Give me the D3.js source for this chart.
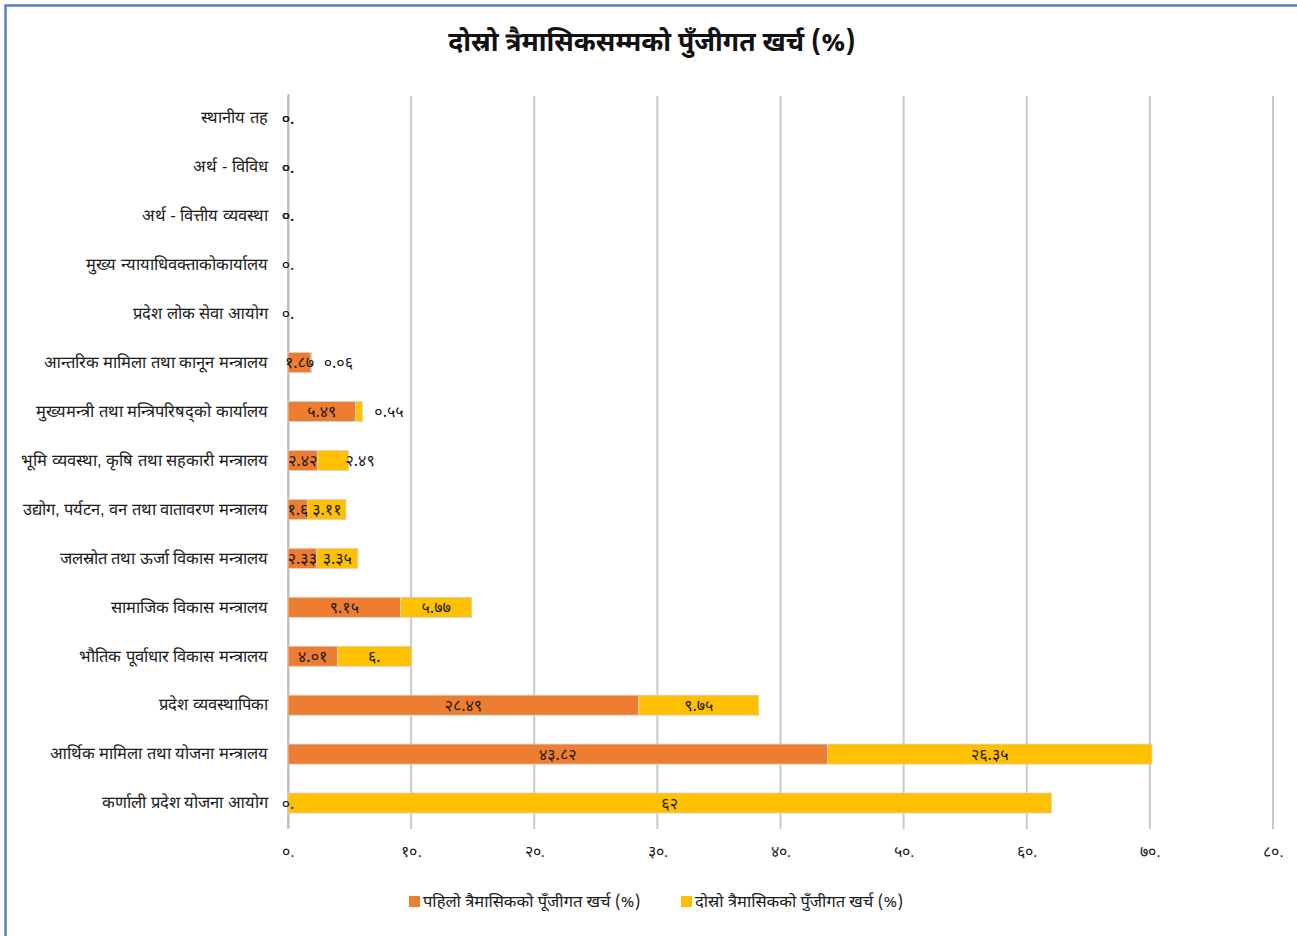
<!DOCTYPE html>
<html>
<head>
<meta charset="utf-8">
<script src="https://cdn.jsdelivr.net/npm/d3@7"></script>
<style>
  body { margin: 0; background: #fff; }
  svg { font-family: "Noto Sans Devanagari", "Lohit Devanagari", "Noto Sans", sans-serif; }
</style>
</head>
<body>
<div id="chart-area"></div>
<script>
/*
*    capital expenditure chart
*/

// Data
var categories = [
  "स्थानीय तह",
  "अर्थ - विविध",
  "अर्थ - वित्तीय व्यवस्था",
  "मुख्य न्यायाधिवक्ताकोकार्यालय",
  "प्रदेश लोक सेवा आयोग",
  "आन्तरिक मामिला तथा कानून मन्त्रालय",
  "मुख्यमन्त्री तथा मन्त्रिपरिषद्को कार्यालय",
  "भूमि व्यवस्था, कृषि तथा सहकारी मन्त्रालय",
  "उद्योग, पर्यटन, वन तथा वातावरण मन्त्रालय",
  "जलस्रोत तथा ऊर्जा विकास मन्त्रालय",
  "सामाजिक विकास मन्त्रालय",
  "भौतिक पूर्वाधार विकास मन्त्रालय",
  "प्रदेश व्यवस्थापिका",
  "आर्थिक मामिला तथा योजना मन्त्रालय",
  "कर्णाली प्रदेश योजना आयोग"
];
var firstQuarter  = [0, 0, 0, 0, 0, 1.87, 5.49, 2.42, 1.6, 2.33, 9.15, 4.01, 28.49, 43.82, 0];
var secondQuarter = [0, 0, 0, null, null, 0.06, 0.55, 2.49, 3.11, 3.35, 5.77, 6, 9.75, 26.35, 62];
var seriesNames = ["पहिलो त्रैमासिकको पूँजीगत खर्च (%)", "दोस्रो त्रैमासिकको पुँजीगत खर्च (%)"];
var xTicks = [0, 10, 20, 30, 40, 50, 60, 70, 80];
var title = "दोस्रो त्रैमासिकसम्मको पुँजीगत खर्च (%)";

var colors = ["#ED7D31", "#FFC000"];
var width = 1297;
var height = 936;

var devDigits = "०१२३४५६७८९";
var toDev = (s) => { return String(s).replace(/[0-9]/g, (c) => devDigits[+c]); };
var fmtLabel = (v) => {
  var s = String(v);
  if (Number.isInteger(v) && v < 10) s += ".";
  return toDev(s);
};

var svg = d3.select("#chart-area").append("svg").attr("width", width).attr("height", height);

// Outer border
svg.append("rect").attr("x", 5.5).attr("y", 5.5).attr("width", width + 50).attr("height", height + 50)
  .attr("fill", "white").attr("stroke", "#5b7fc0").attr("stroke-width", 2.5);

// Scales
var x = d3.scaleLinear().domain([0, 80]).range([288, 1273]);
var y = d3.scaleBand().domain(categories).range([93.5, 827.5]).paddingInner(0.59).paddingOuter(0.295);

// Title
svg.append("text").attr("x", 652).attr("y", 51).attr("text-anchor", "middle")
  .attr("font-size", "26.5px").attr("font-weight", "bold").attr("fill", "#111").text(title);

// Gridlines
svg.append("g").selectAll("line").data(xTicks).enter().append("line")
  .attr("x1", (d) => x(d)).attr("x2", (d) => x(d)).attr("y1", 96).attr("y2", 829)
  .attr("stroke", "#c9c9c9").attr("stroke-width", 2);

// X axis
var xAxisGroup = svg.append("g").attr("transform", "translate(0, 829)")
  .call(d3.axisBottom(x).tickValues(xTicks).tickSize(0).tickPadding(17).tickFormat((d) => toDev(d) + "."));
xAxisGroup.select(".domain").remove();
xAxisGroup.selectAll("text").attr("font-size", "16px").attr("fill", "#222").style("font-family", "inherit");

// Y axis labels
var yAxisGroup = svg.append("g").attr("transform", "translate(288, 0)")
  .call(d3.axisLeft(y).tickSize(0).tickPadding(20));
yAxisGroup.select(".domain").attr("stroke", "#bdbdbd").attr("stroke-width", 2);
yAxisGroup.selectAll("text").attr("font-size", "16.5px").attr("fill", "#1a1a1a").style("font-family", "inherit");

// Stacked bars
var rows = categories.map((c, i) => {
  return { cat: c, a: firstQuarter[i], b: secondQuarter[i] };
});

var g = svg.append("g");
rows.forEach((d) => {
  var a = d.a || 0;
  var b = d.b || 0;
  var yTop = y(d.cat);
  var bw = y.bandwidth();
  var cy = yTop + bw / 2;
  g.append("rect").attr("x", x(0)).attr("y", yTop).attr("width", x(a) - x(0)).attr("height", bw)
    .attr("fill", colors[0]).attr("stroke", "#d4d4d4").attr("stroke-width", a > 0 ? 0.8 : 0);
  g.append("rect").attr("x", x(a)).attr("y", yTop).attr("width", x(a + b) - x(a)).attr("height", bw)
    .attr("fill", colors[1]).attr("stroke", "#d4d4d4").attr("stroke-width", b > 0 ? 0.8 : 0);

  // labels
  if (d.a !== null) {
    g.append("text").attr("x", a >= 1 ? (x(0) + x(a)) / 2 : x(0)).attr("y", cy).attr("dy", "0.35em")
      .attr("text-anchor", "middle").attr("font-size", "16px").attr("fill", "#1a1a1a").text(fmtLabel(d.a));
  }
  if (d.b !== null) {
    var segW = x(a + b) - x(a);
    var outside = b > 0 && b < 1;
    var narrow = !outside && b > 0 && segW < 34;
    var lx = outside ? x(a + b) + 12 : narrow ? x(a + b) - 3 : (b > 0 ? (x(a) + x(a + b)) / 2 : x(a));
    g.append("text").attr("x", lx).attr("y", cy).attr("dy", "0.35em")
      .attr("text-anchor", (outside || narrow) ? "start" : "middle").attr("font-size", "16px").attr("fill", "#1a1a1a")
      .text(fmtLabel(d.b));
  }
});

// Legend
var legend = svg.append("g").attr("transform", "translate(409, 901)");
var legendX = [0, 272];
seriesNames.forEach((name, i) => {
  var lg = legend.append("g").attr("transform", "translate(" + legendX[i] + ", 0)");
  lg.append("rect").attr("x", 0).attr("y", -5).attr("width", 11).attr("height", 11).attr("fill", colors[i]);
  lg.append("text").attr("x", 14).attr("y", 0).attr("dy", "0.35em").attr("font-size", "16.5px")
    .attr("fill", "#1a1a1a").text(name);
});
</script>
</body>
</html>
